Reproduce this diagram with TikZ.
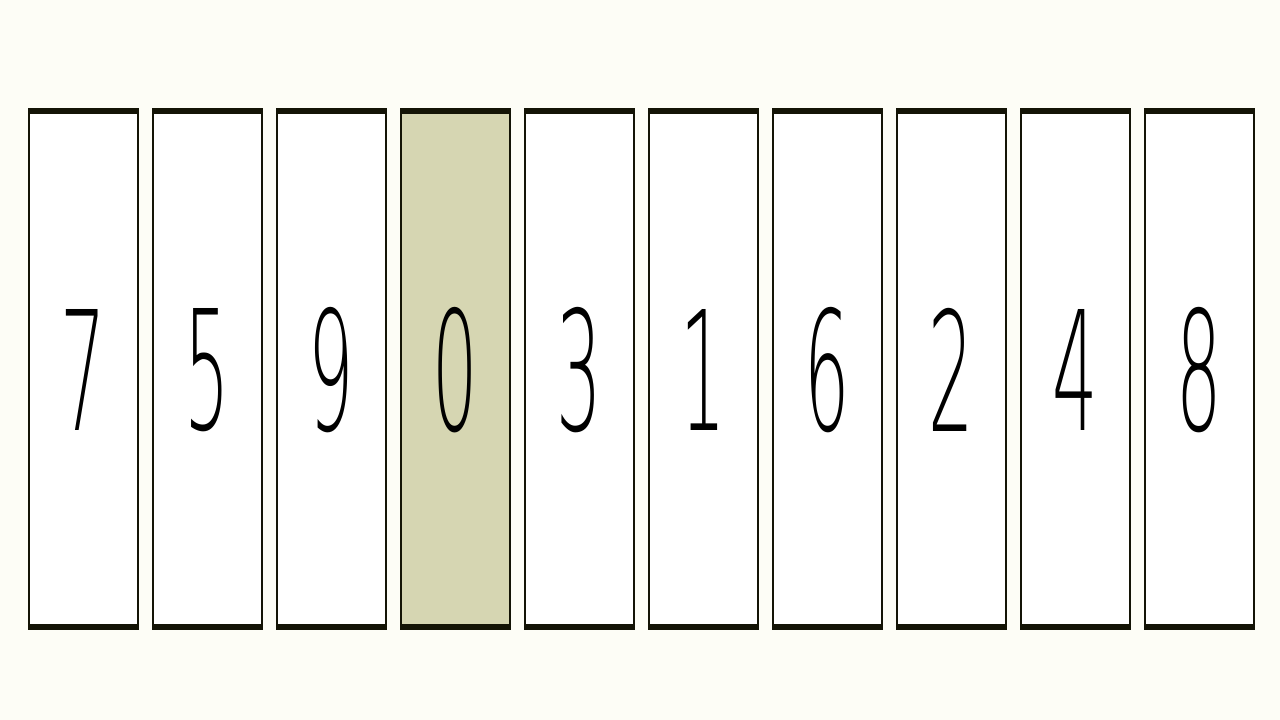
\documentclass[tikz,border=0pt]{standalone}
\usepackage{fontspec}
\IfFontExistsTF{DejaVu Sans ExtraLight}{\newfontfamily\digitfont{DejaVu Sans ExtraLight}}{\newfontfamily\digitfont{DejaVu Sans}}
\definecolor{bg}{RGB}{253,253,246}
\definecolor{edge}{RGB}{20,20,6}
\definecolor{hl}{RGB}{214,214,178}
\tikzset{
  cardbox/.style={draw=edge, line width=2pt},
  digit/.style={font=\digitfont\fontsize{166}{166}\selectfont, text=black, inner sep=0pt, xscale=0.43},
}
\begin{document}
\begin{tikzpicture}[x=1pt,y=-1pt]
\fill[bg] (0,0) rectangle (1280,720);
\useasboundingbox (0,0) rectangle (1280,720);
\foreach \d [count=\i from 0] in {7,5,9,0,3,1,6,2,4,8} {
  \pgfmathsetmacro{\xl}{29+124*\i}
  \ifnum\i=3 \def\fc{hl}\else\def\fc{white}\fi
  \path[fill=\fc, cardbox] (\xl,110) rectangle ++(109,518);
  \fill[edge] (\xl-1,108) rectangle ++(111,6);
  \fill[edge] (\xl-1,624) rectangle ++(111,6);
  \node[digit] (d\i) at (\xl+54.5,370) {\d};
}
\end{tikzpicture}
\end{document}
